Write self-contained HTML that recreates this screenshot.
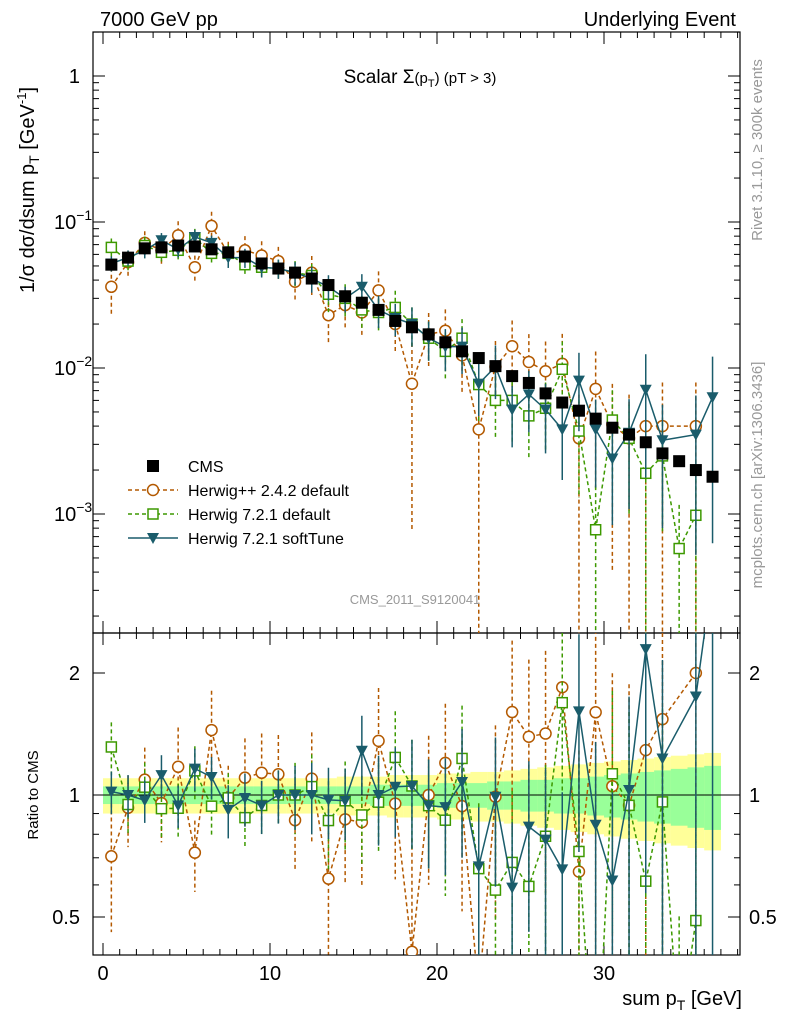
<!DOCTYPE html>
<html><head><meta charset="utf-8"><style>
html,body{margin:0;padding:0;background:#fff;overflow:hidden;width:786px;height:1024px;}
svg{display:block;}
svg text{font-family:"Liberation Sans","DejaVu Sans",sans-serif;}
</style></head><body>
<svg id="c" width="786" height="1024" xmlns="http://www.w3.org/2000/svg"></svg>
<script>
const bins=[0.5,1.5,2.5,3.5,4.5,5.5,6.5,7.5,8.5,9.5,10.5,11.5,12.5,13.5,14.5,15.5,16.5,17.5,18.5,19.5,20.5,21.5,22.5,23.5,24.5,25.5,26.5,27.5,28.5,29.5,30.5,31.5,32.5,33.5,34.5,35.5,36.5];
const cms=[0.051,0.057,0.066,0.067,0.069,0.068,0.065,0.062,0.058,0.052,0.048,0.045,0.041,0.037,0.031,0.028,0.025,0.021,0.019,0.017,0.015,0.013,0.0117,0.0103,0.0088,0.0079,0.0067,0.0058,0.0051,0.0045,0.0039,0.0035,0.0031,0.0026,0.0023,0.0020,0.0018];
const hpp=[0.036,0.053,0.072,0.064,0.081,0.049,0.094,0.061,0.064,0.059,0.054,0.039,0.045,0.023,0.027,0.024,0.034,0.020,0.0078,0.017,0.018,0.0122,0.0038,0.0102,0.0141,0.011,0.0095,0.0107,0.0033,0.0072,0.0041,0.0033,0.0040,0.0040,null,0.0040,null];
const h721=[0.067,0.054,0.069,0.062,0.064,0.078,0.061,0.061,0.051,0.049,0.048,0.045,0.043,0.032,0.030,0.025,0.024,0.026,0.020,0.016,0.013,0.016,0.0077,0.0060,0.0060,0.0047,0.0053,0.0098,0.0037,0.00078,0.0044,0.0033,0.0019,0.0025,0.00058,0.00098,null];
const hsoft=[0.052,0.057,0.064,0.075,0.065,0.079,0.072,0.057,0.057,0.049,0.048,0.045,0.041,0.036,0.030,0.036,0.025,0.022,0.020,0.016,0.014,0.014,0.0078,0.0102,0.0052,0.0066,0.0052,0.0038,0.0082,0.0038,0.0024,0.0036,0.0071,0.0032,null,0.0035,0.0063];
const errHpp=[0.35,0.2,0.2,0.2,0.25,0.2,0.25,0.2,0.25,0.25,0.25,0.25,0.3,0.35,0.3,0.3,0.35,0.35,0.9,0.4,0.4,0.45,0.99,0.5,0.5,0.55,0.6,0.6,0.99,0.8,0.9,0.99,0.99,0.99,0.99,0.99,0.99];
const err721=[0.15,0.15,0.15,0.15,0.15,0.15,0.15,0.15,0.15,0.15,0.15,0.2,0.2,0.25,0.25,0.25,0.25,0.3,0.3,0.3,0.35,0.35,0.45,0.45,0.5,0.5,0.5,0.55,0.65,0.99,0.6,0.7,0.99,0.7,0.99,0.99,0.99];
const errSoft=[0.12,0.12,0.12,0.12,0.12,0.12,0.12,0.15,0.15,0.15,0.15,0.18,0.2,0.2,0.2,0.22,0.25,0.25,0.3,0.3,0.32,0.35,0.4,0.4,0.45,0.45,0.5,0.55,0.55,0.6,0.65,0.7,0.75,0.75,0.8,0.85,0.9];
const bandY=[0.1,0.1,0.1,0.1,0.1,0.1,0.1,0.1,0.1,0.1,0.1,0.1,0.1,0.1,0.11,0.11,0.11,0.12,0.12,0.12,0.13,0.13,0.14,0.14,0.15,0.16,0.17,0.18,0.19,0.2,0.21,0.22,0.23,0.24,0.25,0.26,0.27];
const bandG=[0.05,0.05,0.05,0.05,0.05,0.05,0.05,0.05,0.05,0.05,0.05,0.05,0.05,0.05,0.05,0.05,0.06,0.06,0.06,0.06,0.07,0.07,0.07,0.08,0.08,0.09,0.09,0.1,0.1,0.11,0.12,0.13,0.14,0.15,0.16,0.17,0.18];
const xTicks=[0,10,20,30];

const svg=document.getElementById('c');const NS='http://www.w3.org/2000/svg';
function mk(t,a,p){const e=document.createElementNS(NS,t);for(const k in a)e.setAttribute(k,a[k]);(p||svg).appendChild(e);return e;}
const L=93,R=740,T=32,M=633,B=955;
const X=v=>103+(v)*16.7;
const Y=v=>76-146*Math.log10(v);
const RY=v=>795-122*Math.log2(v);
[[bandY,'#ffff99'],[bandG,'#99ff99']].forEach(([bd,col],i)=>{
 bins.forEach((b,j)=>{const r=mk('rect',{x:X(b-0.5),y:RY(1+bd[j]),width:16.8,height:RY(1-bd[j])-RY(1+bd[j]),fill:col});
 });
});
mk('line',{x1:L,x2:R,y1:RY(1),y2:RY(1),stroke:'#000','stroke-width':1});
const f1=mk('rect',{x:L,y:T,width:R-L,height:M-T,fill:'none',stroke:'#000','stroke-width':1.2});

const f2=mk('rect',{x:L,y:M,width:R-L,height:B-M,fill:'none',stroke:'#000','stroke-width':1.2});

for(let v=0;v<=40;v++){const x=X(v);if(x<L||x>R)continue;const len=v%10==0?12:6;
 [T,M].forEach(y=>mk('line',{x1:x,x2:x,y1:y,y2:y+len,stroke:'#000'}));
 [M,B].forEach(y=>mk('line',{x1:x,x2:x,y1:y,y2:y-len,stroke:'#000'}));}
xTicks.forEach(v=>{const t=mk('text',{x:X(v),y:980,'font-size':20,'text-anchor':'middle'});t.textContent=v;
 });
for(let d=-4;d<=0;d++)for(let m=1;m<10;m++){const v=m*Math.pow(10,d);const y=Y(v);if(y<T||y>M)continue;const len=m==1?12:6;
 mk('line',{x1:L,x2:L+len,y1:y,y2:y,stroke:'#000'});mk('line',{x1:R,x2:R-len,y1:y,y2:y,stroke:'#000'});}
[[1,'1'],[0.1,'10'],[0.01,'10'],[0.001,'10']].forEach(([v,s],i)=>{const t=mk('text',{x:i==0?80:54,y:Y(v)+7,'font-size':20,'text-anchor':i==0?'end':'start'});t.textContent=s;
 if(i>0){const sp=mk('tspan',{dy:-9,'font-size':14},t);sp.textContent=['−1','−2','−3'][i-1];}
 });
[0.5,0.6,0.7,0.8,0.9,1,2].forEach(v=>{const y=RY(v);const len=(v==0.5||v==1||v==2)?12:6;
 mk('line',{x1:L,x2:L+len,y1:y,y2:y,stroke:'#000'});mk('line',{x1:R,x2:R-len,y1:y,y2:y,stroke:'#000'});});
[[2,'2'],[1,'1'],[0.5,'0.5']].forEach(([v,s])=>{[[80,'end'],[749,'start']].forEach(([x,a])=>{const t=mk('text',{x:x,y:RY(v)+7,'font-size':20,'text-anchor':a});t.textContent=s;
 });});
const clipM=mk('clipPath',{id:'cm'});mk('rect',{x:L,y:T,width:R-L,height:M-T},clipM);
const clipR=mk('clipPath',{id:'cr'});mk('rect',{x:L,y:M,width:R-L,height:B-M},clipR);
function marker(g,type,x,y,col){
 if(type=='sq')return mk('rect',{x:x-6,y:y-6,width:12,height:12,fill:col},g);
 if(type=='circ')return mk('circle',{cx:x,cy:y,r:5.5,fill:'#fff',stroke:col,'stroke-width':1.5},g);
 if(type=='osq')return mk('rect',{x:x-5,y:y-5,width:10,height:10,fill:'#fff',stroke:col,'stroke-width':1.5},g);
 if(type=='tri')return mk('polygon',{points:`${x-6},${y-5} ${x+6},${y-5} ${x},${y+6}`,fill:col},g);}
const series=[[hpp,errHpp,'#b35900','circ','4,3','herwigpp'],[h721,err721,'#3d9900','osq','4,3','herwig721'],[hsoft,errSoft,'#1a5c6b','tri','','softtune']];
series.forEach(([vals,err,col,mt,dash,nm])=>{
 [[Y,'cm',M],[RY,'cr',B]].forEach(([fy,cp,bot],pi)=>{
  const g=mk('g',{'clip-path':`url(#${cp})`});
  
  const val=j=>pi?vals[j]/cms[j]:vals[j];
  let pts=[];bins.forEach((b,j)=>{if(vals[j]!=null)pts.push(X(b)+','+fy(val(j)));});
  mk('polyline',{points:pts.join(' '),fill:'none',stroke:col,'stroke-width':1.5,'stroke-dasharray':dash},g);
  bins.forEach((b,j)=>{if(vals[j]==null)return;const v=val(j),e=err[j];const lo=v*(1-e);
   mk('line',{x1:X(b),x2:X(b),y1:fy(v*(1+e)),y2:lo>0?fy(lo):bot+5,stroke:col,'stroke-width':1.5,'stroke-dasharray':dash},g);});
  bins.forEach((b,j)=>{if(vals[j]==null)return;const m=marker(g,mt,X(b),fy(val(j)),col);
   });
 });});
const gc=mk('g',{'clip-path':'url(#cm)'});
bins.forEach((b,j)=>{const m=marker(gc,'sq',X(b),Y(cms[j]),'#000');});
const leg=[['sq','#000','','CMS'],['circ','#b35900','4,3','Herwig++ 2.4.2 default'],['osq','#3d9900','4,3','Herwig 7.2.1 default'],['tri','#1a5c6b','','Herwig 7.2.1 softTune']];
leg.forEach(([mt,col,dash,lab],i)=>{const y=466+i*24;const g=mk('g',{});
 
 if(i>0)mk('line',{x1:128,x2:178,y1:y,y2:y,stroke:col,'stroke-width':1.5,'stroke-dasharray':dash},g);
 marker(g,mt,153,y,col);const t=mk('text',{x:188,y:y+6,'font-size':16},g);t.textContent=lab;});
function txt(x,y,s,a,attrs,name){const t=mk('text',Object.assign({x:x,y:y,'font-size':20,'text-anchor':a||'start'},attrs||{}));t.textContent=s;
 return t;}
txt(100,26,'7000 GeV pp','start',{},'energy-label');
txt(736,26,'Underlying Event','end',{},'process-label');
const tt=txt(420,83,'','middle',{'font-size':19},'plot-title');
tt.innerHTML='Scalar Σ<tspan font-size="15">(p</tspan><tspan font-size="11" dy="4">T</tspan><tspan font-size="15" dy="-4">) (pT &gt;  3)</tspan>';
txt(415,604,'CMS_2011_S9120041','middle',{'font-size':13,fill:'#999'},'analysis-id');
const yl=txt(0,0,'','middle',{transform:'translate(34,190) rotate(-90)'},'y-axis-title');
yl.innerHTML='1/σ dσ/dsum p<tspan font-size="14" dy="5">T</tspan><tspan dy="-5"> [GeV</tspan><tspan font-size="13" dy="-8">-1</tspan><tspan dy="8">]</tspan>';
txt(0,0,'Ratio to CMS','middle',{transform:'translate(38,795) rotate(-90)','font-size':15},'ratio-axis-title');
const xl=txt(742,1005,'','end',{},'x-axis-title');
xl.innerHTML='sum p<tspan font-size="14" dy="5">T</tspan><tspan dy="-5"> [GeV]</tspan>';
txt(0,0,'Rivet 3.1.10, ≥ 300k events','middle',{transform:'translate(762,150) rotate(-90)','font-size':15,fill:'#999'},'rivet-version');
txt(0,0,'mcplots.cern.ch [arXiv:1306.3436]','middle',{transform:'translate(762,475) rotate(-90)','font-size':15,fill:'#999'},'mcplots-credit');
</script></body></html>
